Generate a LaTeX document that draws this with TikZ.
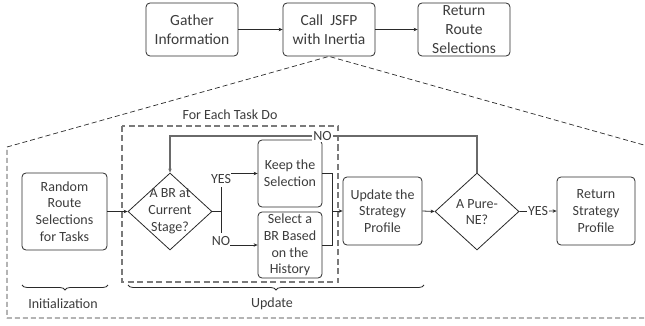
\documentclass[tikz,border=0pt]{standalone}
\usepackage{fontspec}
\setmainfont{Carlito}
\usetikzlibrary{shapes.geometric,arrows.meta,decorations.pathreplacing}
\definecolor{textc}{HTML}{3C3C3C}
\definecolor{linec}{HTML}{2A2A2A}
\definecolor{loopc}{HTML}{6A6A6A}
\definecolor{innerc}{HTML}{7A7A7A}
\begin{document}
\begin{tikzpicture}[x=1pt,y=-1pt,
  txt/.style={text=textc, align=center, font=\fontsize{14}{16.8}\selectfont, inner sep=0pt},
  box/.style={draw=linec, line width=0.8pt, rounded corners=4pt, txt},
  topbox/.style={box, minimum width=92pt, minimum height=53pt, font=\fontsize{15.5}{18.7}\selectfont},
  dia/.style={draw=linec, line width=0.8pt, shape=diamond, minimum width=84pt, minimum height=77pt, inner sep=0pt},
  arr/.style={draw=linec, line width=0.8pt, -{Stealth[length=4pt,width=3.5pt]}},
  ln/.style={draw=linec, line width=0.8pt},
  lbl/.style={txt, fill=white, inner sep=1pt},
  bracest/.style={draw=linec, line width=0.8pt, decorate, decoration={brace, amplitude=5pt, mirror}},
  bigdash/.style={draw=linec, line width=0.7pt, dash pattern=on 5pt off 3pt},
  innerdash/.style={draw=innerc, line width=1.2pt, dash pattern=on 6pt off 3.5pt},
]
\useasboundingbox (0,0) rectangle (645,326);
\clip (0,0) rectangle (645,326);

% top row
\node[topbox] (gather) at (192,29.5) {Gather\\Information};
\node[topbox] (call) at (329,29.5) {Call\ \ JSFP\\with Inertia};
\node[topbox] (ret) at (464,29.5) {Return\\Route\\Selections};
\draw[arr] (gather.east) -- (call.west);
\draw[arr] (call.east) -- (ret.west);

% big dashed frame
\coordinate (TL) at (7,147);
\coordinate (BL) at (7,318);
\coordinate (BR) at (651,318);
\coordinate (TR) at (651,147);
\draw[bigdash] (TR) -- (call.south) -- (TL) -- (BL) -- (BR) -- (TR);

% inner dashed frame
\coordinate (iTL) at (122,126);
\coordinate (iBR) at (338,282);
\draw[innerdash] (iTL) rectangle (iBR);
\node[txt] (foreach) at (230,115) {For Each Task Do};

% bottom nodes
\node[box, minimum width=85pt, minimum height=77pt] (rand) at (64.5,211.5) {Random\\Route\\Selections\\for Tasks};
\node[dia] (d1) at (170,211.5) {};
\node[txt] (d1t) at (170,211.5) {A BR at\\Current\\Stage?};
\node[box, minimum width=64pt, minimum height=67pt] (keep) at (290,173.5) {Keep the\\Selection};
\node[box, minimum width=64pt, minimum height=66pt] (sel) at (290,245) {Select a\\BR Based\\on the\\History};
\node[box, minimum width=79pt, minimum height=68pt] (upd) at (382.5,211) {Update the\\Strategy\\Profile};
\node[dia] (d2) at (477,211.5) {};
\node[txt] (d2t) at (477,212) {A Pure-\\NE?};
\node[box, minimum width=78pt, minimum height=68pt] (rs) at (596,211) {Return\\Strategy\\Profile};

% connectors
\draw[arr] (rand.east) -- (d1.west);
\coordinate (split) at (221,211.5);
\coordinate (splitT) at (221,187);
\coordinate (splitB) at (221,233);
\draw[ln] (d1.east) -- (split);
\draw[ln] (splitT) -- (splitB);
\node[txt] (yes1) at (221,179.5) {YES};
\node[txt] (no1) at (221,241.5) {NO};
\coordinate (yesA) at (231,173.5);
\coordinate (noA) at (230,245);
\draw[arr] (yesA) -- (keep.west);
\draw[arr] (noA) -- (sel.west);
\coordinate (mT) at (332,173.5);
\coordinate (mB) at (332,245);
\coordinate (mM) at (332,211);
\draw[ln] (keep.east) -- (mT) -- (mB) -- (sel.east);
\draw[arr] (mM) -- (upd.west);
\draw[arr] (upd.east) -- (d2.west);
\draw[arr] (d2.east) -- node[lbl] (yes2) {YES} (rs.west);
\coordinate (lR) at (477,136);
\coordinate (lL) at (170,136);
\draw[draw=loopc, line width=1.1pt, -{Stealth[length=4pt,width=3.5pt]}] (d2.north) -- (lR) -- (lL) -- (d1.north);
\node[lbl] (no2) at (322.5,136.5) {NO};

% braces
\coordinate (b1a) at (22,285);
\coordinate (b1b) at (108,285);
\coordinate (b2a) at (128,285);
\coordinate (b2b) at (424,285);
\draw[bracest] (b1a) -- (b1b);
\draw[bracest] (b2a) -- (b2b);
\node[txt] (init) at (63,304) {Initialization};
\node[txt] (updl) at (272,304) {Update};
\end{tikzpicture}
\end{document}
